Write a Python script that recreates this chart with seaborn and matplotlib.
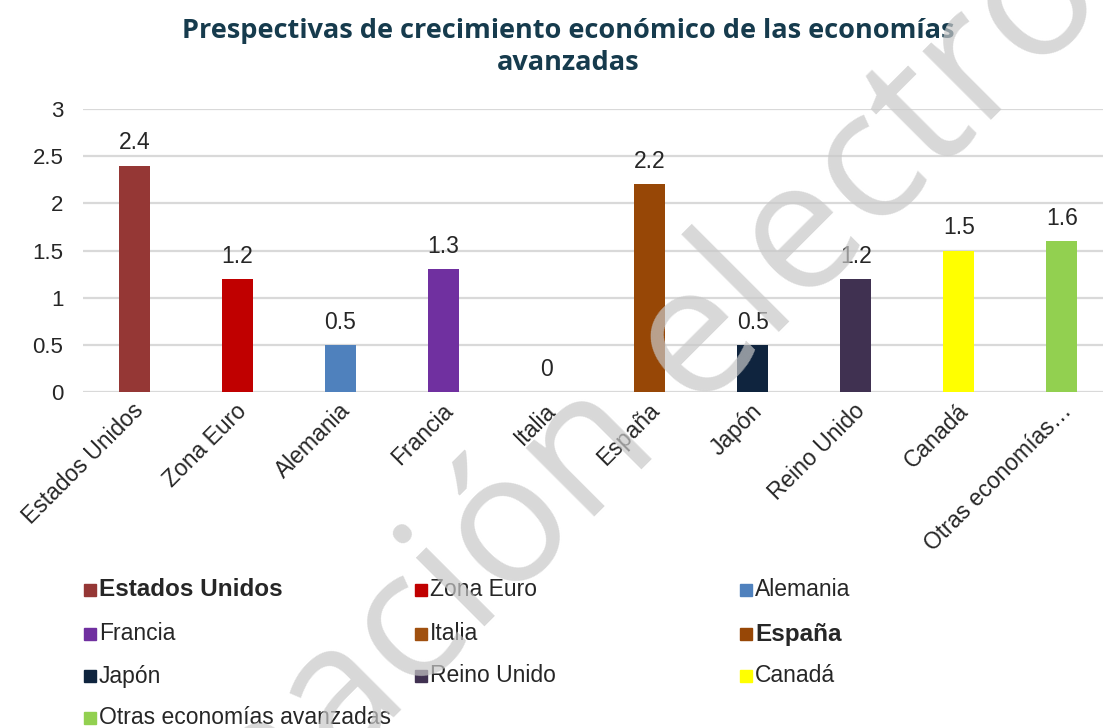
import numpy as np
import pandas as pd
import matplotlib
matplotlib.use("Agg")
import matplotlib.pyplot as plt
import matplotlib.transforms as mtransforms
from matplotlib.patches import Rectangle
import seaborn as sns

# ── data ─────────────────────────────────────────────────────────────────────
categories = ["Estados Unidos", "Zona Euro", "Alemania", "Francia", "Italia",
              "España", "Japón", "Reino Unido", "Canadá",
              "Otras economías avanzadas"]
values = [2.4, 1.2, 0.5, 1.3, 0.0, 2.2, 0.5, 1.2, 1.5, 1.6]
tick_labels = ["Estados Unidos", "Zona Euro", "Alemania", "Francia", "Italia",
               "España", "Japón", "Reino Unido", "Canadá", "Otras economías…"]
bar_colors = ["#953735", "#C00000", "#4F81BD", "#7030A0", "#A0500F",
              "#974706", "#0F243E", "#403151", "#FFFF00", "#92D050"]
legend_bold = ["Estados Unidos", "España"]
title = "Prespectivas de crecimiento económico de las economías\navanzadas"
y_ticks = [0, 0.5, 1, 1.5, 2, 2.5, 3]

df = pd.DataFrame({"pais": categories, "valor": values})

sns.set_style("white")
plt.rcParams["font.family"] = ["Liberation Sans", "DejaVu Sans"]

fig = plt.figure(figsize=(11.03, 7.28), dpi=100)
ax = fig.add_axes([0.075, 0.4615, 0.925, 0.3888])

sns.barplot(data=df, x="pais", y="valor", hue="pais", palette=bar_colors,
            width=0.3, saturation=1, legend=False, linewidth=0, ax=ax)

for cont in ax.containers:
    ax.bar_label(cont, fmt="%g", padding=8, fontsize=16.5, color="#262626")

ax.set_xlim(-0.5, 9.4)
ax.set_ylim(0, 3)
ax.set_yticks(y_ticks)
ax.set_yticklabels([f"{t:g}" for t in y_ticks])
ax.yaxis.grid(True, color="#D9D9D9", linewidth=1.6)
ax.set_axisbelow(True)
for s in ax.spines.values():
    s.set_visible(False)
ax.tick_params(axis="y", length=0, pad=14, labelsize=16, labelcolor="#262626")
ax.tick_params(axis="x", length=0, pad=11, labelsize=16.5, labelcolor="#262626")
ax.set_xticks(range(len(tick_labels)))
ax.set_xticklabels(tick_labels, rotation=45, ha="right", va="center",
                   rotation_mode="anchor")
shift = mtransforms.ScaledTranslation(6 / 100, 0, fig.dpi_scale_trans)
for lbl in ax.get_xticklabels():
    lbl.set_transform(lbl.get_transform() + shift)
ax.set_xlabel("")
ax.set_ylabel("")

fig.text(0.515, 0.935, title, ha="center", va="center", fontsize=19.5,
         fontweight="bold", color="#163B4D", family="Open Sans",
         linespacing=1.3)

# ── legend (3 columns, row-wise like Excel) ─────────────────────────────────
col_x = [84, 415, 740]
row_y = [590, 634, 676, 718]
W, H = 1103, 728
for i, (name, col) in enumerate(zip(categories, bar_colors)):
    r, c = divmod(i, 3)
    x0, yc = col_x[c], row_y[r]
    fig.patches.append(Rectangle((x0 / W, 1 - (yc + 6) / H), 12 / W, 12 / H,
                                 transform=fig.transFigure, color=col))
    bold = name in legend_bold
    fig.text((x0 + 15) / W, 1 - yc / H, name, ha="left", va="center",
             fontsize=17.5 if bold else 16.5, color="#262626",
             fontweight="bold" if bold else "normal")

# ── watermark ───────────────────────────────────────────────────────────────
fig.text(611 / W, 1 - 433 / H, "Información electrónica", ha="center",
         va="center", rotation=45, rotation_mode="anchor", fontsize=131,
         color="#C8C8C8", alpha=0.7, family="Open Sans", zorder=10)

fig.savefig("out.png", dpi=100)
